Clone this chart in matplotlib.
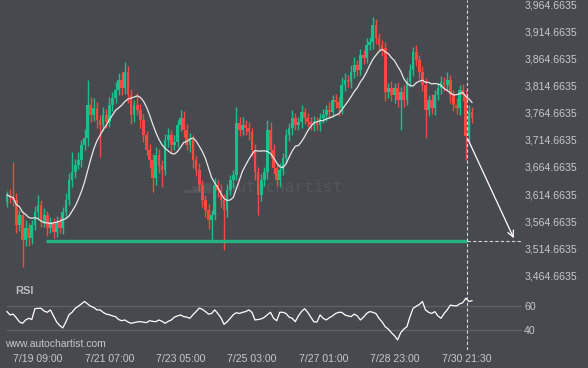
import numpy as np
import pandas as pd
import matplotlib
matplotlib.use("Agg")
import matplotlib.pyplot as plt

plt.rcParams['font.family'] = ['Liberation Sans', 'DejaVu Sans']

# 2-hour candles, hours counted from 7/18 13:00
first_open = 3600
closes = [
    3613, 3607, 3604, 3557, 3576, 3530, 3552, 3533, 3557, 3581,
    3594, 3563, 3576, 3552, 3563, 3545, 3563, 3552, 3581, 3604,
    3640, 3655, 3668, 3677, 3705, 3718, 3779, 3760, 3773, 3751,
    3742, 3760, 3747, 3779, 3792, 3806, 3825, 3810, 3840, 3797,
    3760, 3779, 3770, 3751, 3723, 3696, 3677, 3644, 3687, 3668,
    3659, 3714, 3723, 3705, 3711, 3742, 3755, 3733, 3705, 3714,
    3677, 3659, 3631, 3604, 3585, 3567, 3576, 3631, 3622, 3604,
    3585, 3622, 3640, 3650, 3745, 3733, 3742, 3736, 3729, 3696,
    3655, 3613, 3640, 3655, 3733, 3696, 3663, 3640, 3659, 3681,
    3723, 3736, 3755, 3742, 3747, 3766, 3755, 3747, 3742, 3747,
    3742, 3755, 3760, 3770, 3766, 3788, 3784, 3773, 3816, 3825,
    3821, 3840, 3853, 3843, 3871, 3866, 3890, 3895, 3926, 3902,
    3890, 3884, 3803, 3810, 3797, 3810, 3788, 3803, 3788, 3821,
    3843, 3876, 3862, 3840, 3816, 3770, 3788, 3773, 3797, 3810,
    3821, 3816, 3825, 3797, 3779, 3773, 3806, 3797, 3722, 3766,
    3755,
]
upper_wick = [
    8, 10, 67, 12, 10, 8, 14, 9, 10, 12,
    18, 9, 12, 8, 10, 7, 12, 9, 10, 12,
    14, 37, 12, 15, 10, 16, 46, 14, 18, 12,
    10, 15, 12, 14, 10, 16, 12, 14, 18, 10,
    12, 10, 22, 10, 12, 8, 10, 12, 14, 10,
    9, 12, 14, 10, 12, 10, 15, 12, 10, 14,
    10, 8, 12, 10, 9, 12, 10, 14, 10, 12,
    10, 12, 10, 9, 30, 12, 14, 10, 12, 8,
    10, 9, 12, 10, 18, 14, 10, 9, 12, 10,
    12, 10, 14, 9, 10, 12, 8, 10, 9, 12,
    10, 9, 12, 8, 14, 10, 12, 9, 14, 12,
    10, 12, 14, 9, 12, 10, 12, 10, 15, 12,
    10, 9, 12, 10, 14, 9, 12, 10, 12, 10,
    12, 10, 14, 9, 10, 12, 10, 12, 9, 10,
    12, 10, 14, 9, 10, 12, 10, 12, 10, 12,
    9,
]
lower_wick = [
    10, 9, 12, 14, 10, 50, 12, 14, 10, 9,
    12, 10, 9, 14, 10, 12, 9, 10, 12, 10,
    9, 12, 10, 8, 12, 10, 14, 12, 10, 14,
    59, 12, 10, 9, 12, 10, 9, 12, 10, 14,
    16, 12, 10, 14, 12, 10, 14, 26, 12, 14,
    31, 10, 12, 14, 9, 10, 12, 14, 10, 12,
    14, 12, 10, 14, 12, 16, 37, 10, 12, 14,
    74, 12, 10, 14, 10, 12, 10, 12, 14, 12,
    14, 37, 12, 10, 12, 14, 12, 10, 12, 10,
    9, 10, 12, 10, 9, 10, 12, 9, 10, 12,
    10, 12, 9, 10, 12, 9, 10, 14, 10, 12,
    9, 10, 12, 10, 9, 12, 10, 9, 12, 10,
    12, 14, 16, 12, 10, 14, 12, 55, 12, 10,
    9, 10, 12, 14, 12, 52, 12, 10, 12, 9,
    10, 12, 10, 14, 12, 10, 12, 10, 45, 12,
    10,
]
rsi = [
    55.6, 52.8, 53.5, 50.5, 47, 45.8, 48.6, 50, 49, 58,
    58.3, 58.3, 56, 55, 57, 52, 47, 44, 42, 47,
    53, 55, 58.3, 60, 62, 64, 62, 60, 59, 57,
    57, 55, 53.5, 53, 52, 51.4, 49, 48, 48.6, 47,
    45.8, 46.4, 47, 47.2, 46.8, 46.4, 48, 47.5, 47.2, 48.6,
    47.5, 45.8, 47.5, 48.6, 51, 52, 52.8, 51.4, 51, 50,
    53, 55.6, 58.5, 57.5, 55.6, 53.5, 54, 57, 54, 50.5,
    45, 47, 50, 53, 54.7, 54, 55, 55.6, 57, 55,
    48.6, 49, 49.5, 50.8, 53, 55, 50, 48, 55, 55,
    54, 51, 50, 47.2, 52, 55.6, 58, 55, 51, 47,
    47, 52.8, 50, 48.6, 50.5, 52, 54, 55, 55, 52.8,
    52, 51.4, 53.5, 52, 48.6, 51, 54, 55.6, 55, 54,
    50, 47, 43, 41, 38, 35.5, 32, 38, 41, 43,
    51.4, 58.3, 60, 61.5, 64, 57, 55, 54, 55.6, 52,
    50, 54, 57, 61, 60.5, 60.3, 62, 63, 66.7, 64,
    64.7,
]

date_labels = ["7/19 09:00", "7/21 07:00", "7/23 05:00", "7/25 03:00",
               "7/27 01:00", "7/28 23:00", "7/30 21:30"]
date_hours = [20, 66, 112, 158, 204, 250, 296.5]
price_ticks = [3464.6635 + 50 * k for k in range(11)]

support = 3528.5
signal_hour = 296.5
arrow_from = 3721
arrow_to_hour = 327.7

bg = '#46494e'
green = '#17c08c'
red = '#f9463f'
txt = '#c6c8cb'

closes = np.array(closes, dtype=float)
opens = np.concatenate([[first_open], closes[:-1]])
highs = np.maximum(opens, closes) + np.array(upper_wick)
lows = np.minimum(opens, closes) - np.array(lower_wick)
hours = np.arange(len(closes)) * 2.0
ma = pd.Series(closes).rolling(10, min_periods=1).mean()
cols = [green if c >= o else red for o, c in zip(opens, closes)]

fig = plt.figure(figsize=(5.88, 3.68), dpi=100, facecolor=bg)
ax = fig.add_axes([0, 88 / 368, 522 / 588, 280 / 368], facecolor=bg)
ax_r = fig.add_axes([0, 18 / 368, 522 / 588, 70 / 368], facecolor=bg)

xlim = (-7 / 1.55, (522 - 7) / 1.55)

# watermark
ax.text(0.35, 0.33, "\u2582\u2584\u2586", transform=ax.transAxes, fontsize=9,
        color='#53565b', family='DejaVu Sans', va='center', zorder=0)
ax.text(0.435, 0.33, "autochartist", transform=ax.transAxes, fontsize=11.5,
        color='#53565b', family='DejaVu Sans Mono', va='center', zorder=0)

ax.vlines(hours, lows, highs, colors=cols, lw=1.0, zorder=2)
ax.bar(hours, np.maximum(np.abs(closes - opens), 1.5), bottom=np.minimum(opens, closes),
       width=1.75, color=cols, lw=0, zorder=3)
ax.plot(hours, ma, color='#e8e8e8', lw=0.9, zorder=4)

ax.hlines(support, 25.2, signal_hour, color='#26b384', lw=2.4, zorder=5)
ax.hlines(support, signal_hour, xlim[1], color='#d6d6d6', lw=0.8, ls=(0, (3, 2)), zorder=5)
ax.axvline(signal_hour, color='#d6d6d6', lw=0.8, ls=(0, (3, 2)), zorder=5)
ax.annotate('', xy=(arrow_to_hour, support), xytext=(signal_hour, arrow_from),
            arrowprops=dict(arrowstyle='->', color='white', lw=0.9, mutation_scale=11),
            zorder=6)

ax.set_xlim(*xlim)
ax.set_ylim(3972.6 - 1.845 * 280, 3972.6)
ax.yaxis.tick_right()
ax.set_yticks(price_ticks)
ax.set_yticklabels([f"{v:,.4f}" for v in price_ticks])
ax.set_xticks([])
ax.tick_params(axis='y', length=0, pad=1.5, labelsize=7.6, labelcolor=txt)
for s in ax.spines.values():
    s.set_visible(False)

# RSI panel
ax_r.axhline(60, xmin=7 / 522, color='#5f6267', lw=0.9)
ax_r.axhline(40, xmin=7 / 522, color='#5f6267', lw=0.9)
ax_r.plot(hours, rsi, color='white', lw=0.9)
ax_r.axvline(signal_hour, color='#d6d6d6', lw=0.8, ls=(0, (3, 2)))
ax_r.text(15 / 522, 0.843, "RSI", transform=ax_r.transAxes, fontsize=8,
          fontweight='bold', color='#b8bbbe', va='center')
ax_r.set_xlim(*xlim)
ax_r.set_ylim(23.6, 81.9)
ax_r.yaxis.tick_right()
ax_r.set_yticks([40, 60])
ax_r.set_xticks(date_hours)
ax_r.set_xticklabels(date_labels)
ax_r.tick_params(axis='y', length=0, pad=1.5, labelsize=7.6, labelcolor=txt)
ax_r.tick_params(axis='x', length=0, pad=3.0, labelsize=7.6, labelcolor=txt)
for s in ax_r.spines.values():
    s.set_visible(False)

fig.text(5 / 588, 1 - 344 / 368, "www.autochartist.com", fontsize=7.5,
         color=txt, va='center')

fig.savefig("out.png", dpi=100, facecolor=bg)
